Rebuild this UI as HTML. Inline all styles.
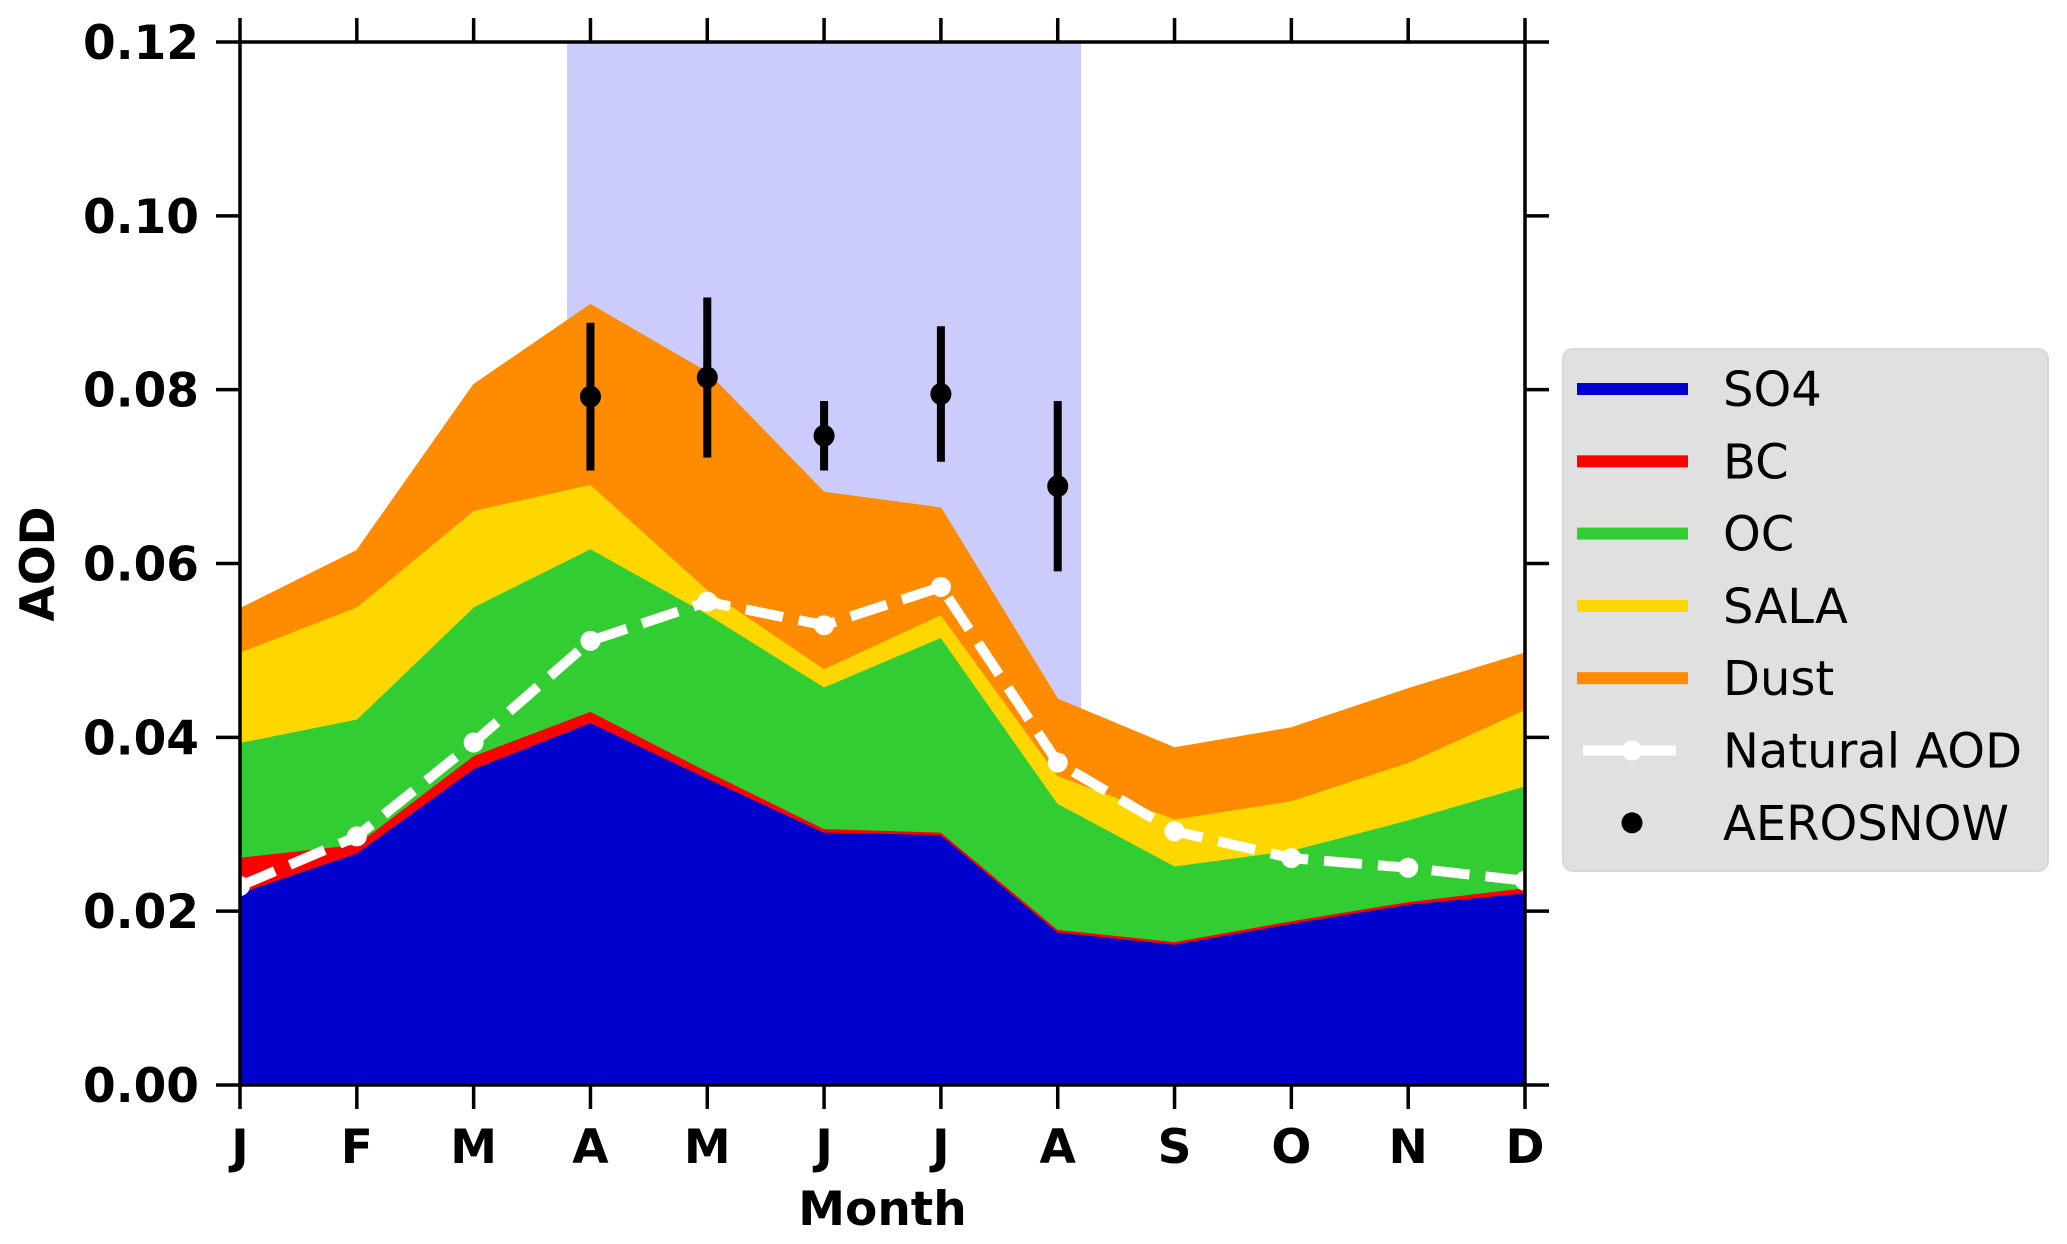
<!DOCTYPE html>
<html><head><meta charset="utf-8"><style>
html,body{margin:0;padding:0;background:#fff;}
svg{display:block;font-family:"DejaVu Sans","Liberation Sans",sans-serif;}
</style></head><body>
<svg id="chart" width="2067" height="1244" viewBox="0 0 2067 1244" xmlns="http://www.w3.org/2000/svg">
<g id="plot"></g>
<g id="axes"></g>
<g id="legend"></g>
</svg>
<script>
const months = ["J","F","M","A","M","J","J","A","S","O","N","D"];
const so4  = [0.0221,0.0267,0.0364,0.0417,0.0353,0.0291,0.0288,0.0176,0.0162,0.0186,0.0208,0.0221];
const bc   = [0.0041,0.0010,0.0015,0.0013,0.0008,0.0004,0.0003,0.0003,0.0003,0.0003,0.0003,0.0006];
const oc   = [0.0132,0.0144,0.0171,0.0187,0.0181,0.0163,0.0224,0.0145,0.0087,0.0081,0.0094,0.0117];
const sala = [0.0104,0.0129,0.0111,0.0074,0.0028,0.0021,0.0026,0.0032,0.0054,0.0057,0.0066,0.0088];
const dust = [0.0050,0.0065,0.0145,0.0207,0.0250,0.0203,0.0123,0.0088,0.0082,0.0084,0.0085,0.0065];
const naturalAOD = [0.0229,0.0286,0.0394,0.0511,0.0556,0.0529,0.0573,0.0371,0.0292,0.0261,0.0250,0.0235];
const obsMonthIdx = [3,4,5,6,7];
const obsValue = [0.0792,0.0814,0.0747,0.0795,0.0689];
const obsErr = [0.0085,0.0092,0.0040,0.0078,0.0098];
const yTicks = [0,0.02,0.04,0.06,0.08,0.10,0.12];
const yTickLabels = ["0.00","0.02","0.04","0.06","0.08","0.10","0.12"];
const spanStart = 2.8, spanEnd = 7.2;

const NS="http://www.w3.org/2000/svg";
const L=240,R=1525,T=42,B=1085,YMAX=0.12;
const xs=i=>L+(R-L)*i/11;
const ys=v=>B-(B-T)*v/YMAX;
function mk(tag,attrs,parent){const e=document.createElementNS(NS,tag);for(const k in attrs)e.setAttribute(k,attrs[k]);parent.appendChild(e);return e;}
const plot=document.getElementById('plot'),axes=document.getElementById('axes'),leg=document.getElementById('legend');

let span=mk('rect',{x:xs(spanStart),y:T,width:xs(spanEnd)-xs(spanStart),height:B-T,fill:'#ccccfc'},plot);



const layers=[["so4",so4,"#0000cc"],["bc",bc,"#ff0000"],["oc",oc,"#32cd32"],["sala",sala,"#ffd700"],["dust",dust,"#ff8c00"]];
let base=months.map(()=>0);
layers.forEach(([name,vals,col])=>{
  const top=base.map((b,i)=>b+vals[i]);
  let pts=top.map((v,i)=>xs(i)+','+ys(v));
  for(let i=11;i>=0;i--)pts.push(xs(i)+','+ys(base[i]));
  const p=mk('polygon',{points:pts.join(' '),fill:col,stroke:col,'stroke-width':1},plot);
  
  
  base=top;
});

const nl=mk('polyline',{points:naturalAOD.map((v,i)=>xs(i)+','+ys(v)).join(' '),fill:'none',stroke:'#fff','stroke-width':10,'stroke-dasharray':'38,16'},plot);


naturalAOD.forEach((v,i)=>{
  const c=mk('circle',{cx:xs(i),cy:ys(v),r:10,fill:'#fff'},plot);
  
  
});
obsValue.forEach((v,k)=>{
  const x=xs(obsMonthIdx[k]);
  const l=mk('line',{x1:x,x2:x,y1:ys(v+obsErr[k]),y2:ys(v-obsErr[k]),stroke:'#000','stroke-width':8},plot);
  
  
  const c=mk('ellipse',{cx:x,cy:ys(v),rx:10.5,ry:11,fill:'#000'},plot);
  
  
});

// axes frame
const fr=mk('rect',{x:L,y:T,width:R-L,height:B-T,fill:'none',stroke:'#000','stroke-width':3.5},axes);


yTicks.forEach((v,i)=>{
  const y=ys(v);
  mk('line',{x1:L-24,x2:L,y1:y,y2:y,stroke:'#000','stroke-width':3.5},axes);
  mk('line',{x1:R,x2:R+24,y1:y,y2:y,stroke:'#000','stroke-width':3.5},axes);
  const t=mk('text',{x:199,y:y+17,'text-anchor':'end','font-size':47,'font-weight':'bold'},axes);
  t.textContent=yTickLabels[i];
  
  
});
months.forEach((m,i)=>{
  const x=xs(i);
  mk('line',{x1:x,x2:x,y1:B,y2:B+24,stroke:'#000','stroke-width':3.5},axes);
  mk('line',{x1:x,x2:x,y1:T-24,y2:T,stroke:'#000','stroke-width':3.5},axes);
  const t=mk('text',{x:x,y:1163,'text-anchor':'middle','font-size':47,'font-weight':'bold'},axes);
  t.textContent=m;
  
  
});
const xt=mk('text',{x:(L+R)/2,y:1225,'text-anchor':'middle','font-size':47,'font-weight':'bold'},axes);
xt.textContent='Month';


const yt=mk('text',{x:0,y:0,'text-anchor':'middle','font-size':47,'font-weight':'bold',transform:'translate(54,564) rotate(-90)'},axes);
yt.textContent='AOD';



// legend
const lb=mk('rect',{x:1563,y:349,width:485,height:522,rx:10,fill:'#e0e0e0',stroke:'#d8d8d8','stroke-width':2},leg);


const legNames=["SO4","BC","OC","SALA","Dust","Natural AOD","AEROSNOW"];
const legColors=["#0000cc","#ff0000","#32cd32","#ffd700","#ff8c00","#fff","#000"];
legNames.forEach((n,i)=>{
  const y=389+i*72.3;
  const g=mk('g',{},leg);
  
  
  if(i<5){mk('rect',{x:1577,y:y-6,width:111,height:12,fill:legColors[i]},g);}
  else if(i===5){mk('line',{x1:1583,x2:1676,y1:y,y2:y,stroke:'#fff','stroke-width':10},g);mk('circle',{cx:1632,cy:y,r:10,fill:'#fff'},g);}
  else {mk('circle',{cx:1632,cy:y,r:10.5,fill:'#000'},g);}
  const t=mk('text',{x:1723,y:y+17,'font-size':48},g);
  t.textContent=n;
});
</script>
</body></html>
